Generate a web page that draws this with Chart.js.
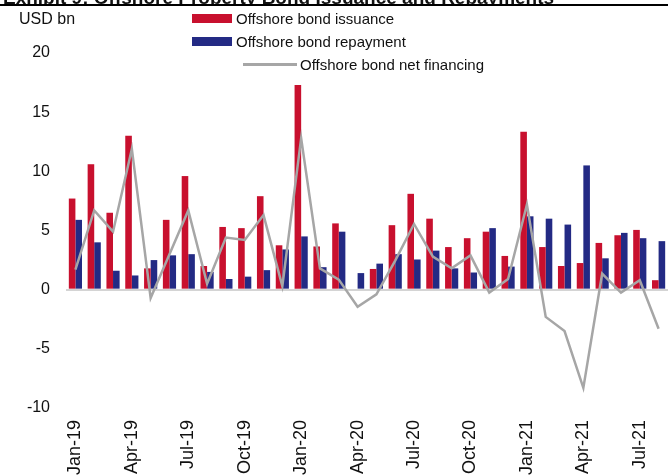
<!DOCTYPE html>
<html>
<head>
<meta charset="utf-8">
<script src="https://cdn.jsdelivr.net/npm/chart.js"></script>
<style>
  html, body { margin: 0; padding: 0; background: #fff; overflow: hidden; }
  body { width: 668px; height: 476px; position: relative; font-family: "Liberation Sans", Arial, sans-serif; color: #111; }
  #wrap { position: absolute; left: 0; top: 0; width: 668px; height: 478px; }
  #titleClip { position: absolute; left: 0; top: 0; width: 668px; height: 5px; overflow: hidden; }
  #title { position: absolute; left: 3px; top: -13px; font-weight: bold; font-size: 19px; white-space: nowrap; line-height: 22px; }
  #rule { position: absolute; left: 0; top: 4px; width: 668px; height: 2px; background: #000; }
  #unit { position: absolute; left: 19px; top: 10px; font-size: 16px; line-height: 18px; }
  .lg { position: absolute; font-size: 15px; line-height: 18px; white-space: nowrap; }
  .sw { position: absolute; }
</style>
</head>
<body>
<div id="wrap"><canvas id="chart"></canvas></div>
<div id="titleClip"><div id="title">Exhibit 9: Offshore Property Bond Issuance and Repayments</div></div>
<div id="rule"></div>
<div id="unit">USD bn</div>
<div class="sw" style="left:192px;top:14px;width:40px;height:9px;background:#c8102e"></div>
<div class="lg" style="left:236px;top:10px">Offshore bond issuance</div>
<div class="sw" style="left:192px;top:37px;width:40px;height:9px;background:#232a84"></div>
<div class="lg" style="left:236px;top:33px">Offshore bond repayment</div>
<div class="sw" style="left:243px;top:63px;width:54px;height:3px;background:#a6a6a6"></div>
<div class="lg" style="left:300px;top:56px">Offshore bond net financing</div>
<script>
// months, Jan-19 to Aug-21
var months = ['Jan-19', 'Feb-19', 'Mar-19', 'Apr-19', 'May-19', 'Jun-19', 'Jul-19', 'Aug-19', 'Sep-19', 'Oct-19', 'Nov-19', 'Dec-19',
  'Jan-20', 'Feb-20', 'Mar-20', 'Apr-20', 'May-20', 'Jun-20', 'Jul-20', 'Aug-20', 'Sep-20', 'Oct-20', 'Nov-20', 'Dec-20',
  'Jan-21', 'Feb-21', 'Mar-21', 'Apr-21', 'May-21', 'Jun-21', 'Jul-21', 'Aug-21'];

// USD bn
var issuance = [7.7, 10.6, 6.5, 13.0, 1.8, 5.9, 9.6, 2.0, 5.3, 5.2, 7.9, 3.75,
  17.3, 3.65, 5.6, 0, 1.75, 5.45, 8.1, 6.0, 3.6, 4.35, 4.9, 2.85,
  13.35, 3.6, 2.0, 2.25, 3.95, 4.6, 5.05, 0.8];
var repayment = [5.9, 4.0, 1.6, 1.2, 2.5, 2.9, 3.0, 1.5, 0.9, 1.1, 1.65, 3.4,
  4.5, 1.9, 4.9, 1.4, 2.2, 3.0, 2.55, 3.3, 1.8, 1.45, 5.2, 1.95,
  6.2, 6.0, 5.5, 10.5, 2.65, 4.8, 4.35, 4.1];
var netFinancing = [1.7, 6.7, 4.9, 11.9, -0.7, 3.0, 6.7, 0.5, 4.4, 4.2, 6.3, 0.3,
  12.8, 1.8, 0.85, -1.45, -0.4, 2.45, 5.55, 2.8, 1.8, 2.9, -0.25, 0.9,
  7.2, -2.3, -3.5, -8.3, 1.35, -0.25, 0.8, -3.3];

// only every third month gets a label
var shownMonths = ['Jan-19', 'Apr-19', 'Jul-19', 'Oct-19', 'Jan-20', 'Apr-20', 'Jul-20', 'Oct-20', 'Jan-21', 'Apr-21', 'Jul-21'];

var ctx = document.getElementById('chart').getContext('2d');
var chart = new Chart(ctx, {
  type: 'bar',
  data: {
    labels: months,
    datasets: [{
      type: 'line',
      label: 'Offshore bond net financing',
      data: netFinancing,
      borderColor: '#a6a6a6',
      borderWidth: 2.5,
      pointRadius: 0,
      tension: 0,
      fill: false,
      order: 0
    }, {
      label: 'Offshore bond issuance',
      data: issuance,
      backgroundColor: '#c8102e',
      categoryPercentage: 0.7,
      barPercentage: 1.0,
      order: 1
    }, {
      label: 'Offshore bond repayment',
      data: repayment,
      backgroundColor: '#232a84',
      categoryPercentage: 0.7,
      barPercentage: 1.0,
      order: 1
    }]
  },
  options: {
    responsive: true,
    maintainAspectRatio: false,
    animation: false,
    devicePixelRatio: 1,
    layout: { padding: { top: 53, right: 0, bottom: 0, left: 0 } },
    plugins: {
      legend: { display: false },
      tooltip: { enabled: false }
    },
    scales: {
      x: {
        grid: { display: false, drawTicks: false },
        border: { display: false },
        afterFit: function (scale) {
          // fixed axis band, no extra side padding so the bars reach the right edge
          scale.height = 70;
          scale.paddingLeft = 0;
          scale.paddingRight = 0;
        },
        ticks: {
          autoSkip: false,
          maxRotation: 90,
          minRotation: 90,
          padding: 12,
          color: '#111',
          font: { family: 'Liberation Sans', size: 18 },
          callback: function (value) {
            var lab = this.getLabelForValue(value);
            return shownMonths.indexOf(lab) >= 0 ? lab : '';
          }
        }
      },
      y: {
        min: -10,
        max: 20,
        grid: {
          drawTicks: false,
          color: function (c) { return c.tick && c.tick.value === 0 ? '#d4d4d4' : 'rgba(0,0,0,0)'; },
          lineWidth: 2
        },
        border: { display: false },
        afterFit: function (scale) { scale.width = 66; },
        ticks: {
          stepSize: 5,
          padding: 16,
          color: '#111',
          font: { family: 'Liberation Sans', size: 16 }
        }
      }
    }
  }
});
</script>
</body>
</html>
